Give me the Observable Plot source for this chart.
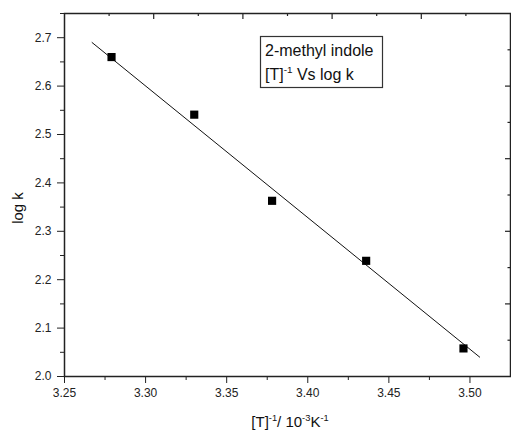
<!DOCTYPE html>
<html><head><meta charset="utf-8">
<script src="https://cdn.jsdelivr.net/npm/d3@7"></script>
<script src="https://cdn.jsdelivr.net/npm/@observablehq/plot@0.6"></script>
<style>body{margin:0;background:#fff} svg{display:block}</style>
</head><body><div id="chart"></div>
<script>
// Data
const invT = [3.279, 3.330, 3.378, 3.436, 3.496];
const logK = [2.660, 2.541, 2.363, 2.239, 2.058];
const fitX = [3.267, 3.506];
const fitY = [2.690, 2.040];

// Tick values
const xTicksMajor = [3.25, 3.30, 3.35, 3.40, 3.45, 3.50];
const xTicksMinor = [3.275, 3.325, 3.375, 3.425, 3.475];
const yTicksMajor = [2.0, 2.1, 2.2, 2.3, 2.4, 2.5, 2.6, 2.7];
const yTicksMinor = [2.05, 2.15, 2.25, 2.35, 2.45, 2.55, 2.65, 2.75];
const topTicksMajor = [3.305, 3.36, 3.415, 3.47];
const topTicksMinor = [3.2775, 3.3325, 3.3875, 3.4425, 3.4975];
const rightTicksMajor = [2.15, 2.30, 2.45, 2.60];
const rightTicksMinor = [2.075, 2.225, 2.375, 2.525, 2.675];

const points = invT.map((x, i) => ({x, y: logK[i]}));
const fit = fitX.map((x, i) => ({x, y: fitY[i]}));

const W = 511, H = 433, mL = 64, mR = 1, mT = 13, mB = 57;
const frameW = W - mL - mR, frameH = H - mT - mB;
const ink = "#222";

const chart = Plot.plot({
  width: W, height: H,
  marginLeft: mL, marginRight: mR, marginTop: mT, marginBottom: mB,
  style: {fontFamily: "Arial, 'Liberation Sans', sans-serif", background: "#fff"},
  x: {domain: [3.25, 3.525]},
  y: {domain: [2.0, 2.75]},
  marks: [
    Plot.axisX({ticks: xTicksMajor, tickSize: 7, tickPadding: 5, tickFormat: d3.format(".2f"), fontSize: 12, color: ink, label: null}),
    Plot.axisX({ticks: xTicksMinor, tickSize: 4, tickFormat: () => "", color: ink, label: null}),
    Plot.axisY({ticks: yTicksMajor, tickSize: 7, tickPadding: 6, tickFormat: d3.format(".1f"), fontSize: 12, color: ink, label: null}),
    Plot.axisY({ticks: yTicksMinor, tickSize: 4, tickFormat: () => "", color: ink, label: null}),
    // inward ticks on the top and right edges
    Plot.tickX(topTicksMajor, {x: d => d, insetBottom: frameH - 6, stroke: ink, strokeWidth: 1.2}),
    Plot.tickX(topTicksMinor, {x: d => d, insetBottom: frameH - 3, stroke: ink, strokeWidth: 1.2}),
    Plot.tickY(rightTicksMajor, {y: d => d, insetLeft: frameW - 5, stroke: ink, strokeWidth: 1.2}),
    Plot.tickY(rightTicksMinor, {y: d => d, insetLeft: frameW - 2.5, stroke: ink, strokeWidth: 1.2}),
    Plot.frame({stroke: ink, strokeWidth: 1.5}),
    Plot.line(fit, {x: "x", y: "y", stroke: "#111", strokeWidth: 1}),
    Plot.dot(points, {x: "x", y: "y", symbol: "square", r: 4.6, fill: "#000", stroke: "none"})
  ]
});
document.getElementById("chart").appendChild(chart);

const svg = d3.select(chart);
const font = "Arial, 'Liberation Sans', sans-serif";

function addRich(sel, parts, size) {
  const shift = size * 0.42;
  let raised = false;
  parts.forEach(p => {
    const ts = sel.append("tspan");
    if (p.sup) {
      ts.attr("dy", raised ? 0 : -shift).attr("font-size", size * 0.62);
      raised = true;
    } else {
      ts.attr("dy", raised ? shift : 0).attr("font-size", size);
      raised = false;
    }
    ts.text(p.t);
  });
}

// Legend box
const lg = svg.append("g").attr("font-family", font).attr("fill", "#111").attr("text-anchor", "start");
lg.append("rect").attr("x", 260.5).attr("y", 36.5).attr("width", 122).attr("height", 51)
  .attr("fill", "#fff").attr("stroke", "#333").attr("stroke-width", 1.2);
lg.append("text").attr("x", 265).attr("y", 56).attr("font-size", 16).text("2-methyl indole");
addRich(lg.append("text").attr("x", 265).attr("y", 80),
  [{t: "[T]"}, {t: "-1", sup: true}, {t: " Vs log k"}], 16);

// Axis titles
svg.append("text").attr("font-family", font).attr("font-size", 15).attr("fill", "#111")
  .attr("text-anchor", "middle").attr("transform", "translate(23,208) rotate(-90)").text("log k");
addRich(svg.append("text").attr("font-family", font).attr("fill", "#111")
  .attr("text-anchor", "middle").attr("x", 290).attr("y", 427),
  [{t: "[T]"}, {t: "-1", sup: true}, {t: "/ 10"}, {t: "-3", sup: true}, {t: "K"}, {t: "-1", sup: true}], 15);
</script>
</body></html>
